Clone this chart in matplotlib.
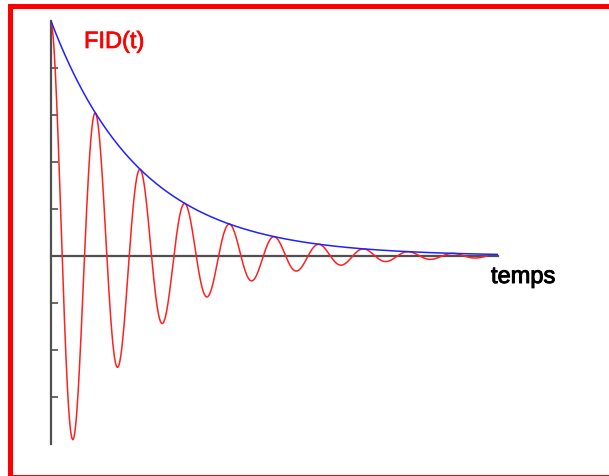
import numpy as np
import matplotlib
matplotlib.use("Agg")
import matplotlib.pyplot as plt
import matplotlib.patheffects as pe
from matplotlib.patches import Rectangle

plt.rcParams['font.family'] = ['Liberation Sans', 'DejaVu Sans']

# parameters (time unit = one oscillation period)
amplitude = 1.0
tau = 2.0          # decay constant of the envelope
period = 1.0
t_env_end = 10.0   # blue envelope / axis end
t_fid_end = 9.75   # red signal end
yticks = [-0.6, -0.4, -0.2, 0.0, 0.2, 0.4, 0.6, 0.8]

t_env = np.linspace(0, t_env_end, 800)
t_fid = np.linspace(0, t_fid_end, 2000)
envelope = amplitude * np.exp(-t_env / tau)
fid = amplitude * np.exp(-t_fid / tau) * np.cos(2 * np.pi * t_fid / period)

W, H = 609, 477
fig = plt.figure(figsize=(W / 100, H / 100), dpi=100)

# axes placed in pixel coordinates: x 51..498, y 22..445
ax = fig.add_axes([51 / W, (H - 445) / H, (498 - 51) / W, (445 - 22) / H])
ax.set_xlim(0, t_env_end)
ax.set_ylim(-0.8, 1.0)

ax.plot(t_fid, fid, color='#ff2020', lw=1.1, zorder=3)
ax.plot(t_env, envelope, color='#2020ff', lw=1.1, zorder=4)

for s in ['top', 'right']:
    ax.spines[s].set_visible(False)
ax.spines['bottom'].set_position(('data', 0))
ax.spines['left'].set_color('#505050')
ax.spines['bottom'].set_color('#505050')
ax.spines['left'].set_linewidth(1.6)
ax.spines['bottom'].set_linewidth(1.6)
ax.set_xticks([])
ax.set_yticks(yticks)
ax.set_yticklabels([])
ax.tick_params(axis='y', direction='in', length=5, width=1.2, color='#505050')

fig.text(84 / W, 1 - 49 / H, 'FID(t)', color='#ff0000', fontsize=17,
         va='baseline', ha='left',
         path_effects=[pe.withStroke(linewidth=0.5, foreground='#ff0000')])
fig.text(491 / W, 1 - 284 / H, 'temps', color='black', fontsize=17,
         va='baseline', ha='left',
         path_effects=[pe.withStroke(linewidth=0.7, foreground='black')])

# red frame
fig.add_artist(Rectangle((8 / W, 1 - 476 / H), 5 / W, 471 / H,
                         transform=fig.transFigure, color='#ff0000', lw=0))
fig.add_artist(Rectangle((8 / W, 1 - 10 / H), (W - 8) / W, 5 / H,
                         transform=fig.transFigure, color='#ff0000', lw=0))
fig.add_artist(Rectangle((8 / W, 1 - 477 / H), (W - 8) / W, 1.5 / H,
                         transform=fig.transFigure, color='#ff0000', lw=0))

fig.savefig('out.png', dpi=100)
